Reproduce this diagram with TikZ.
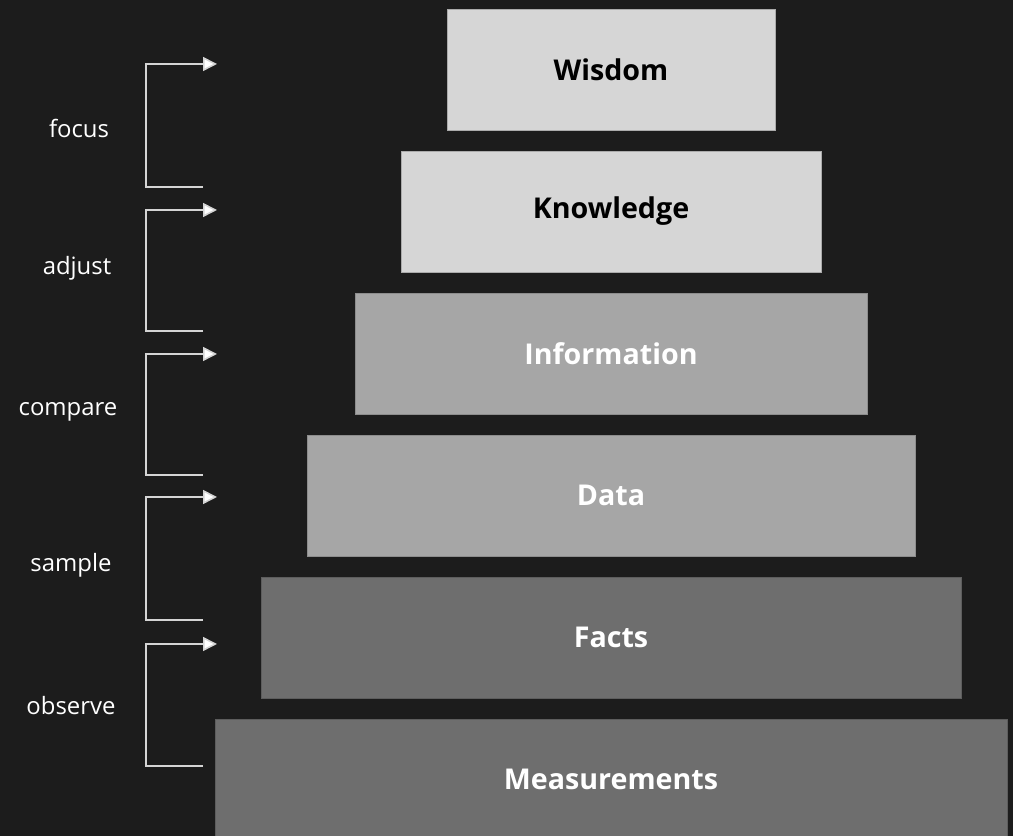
\documentclass[tikz,border=0pt]{standalone}
\usepackage{fontspec}
\setmainfont{Open Sans}
\usetikzlibrary{positioning, arrows.meta}
\definecolor{BgDark}{HTML}{1C1C1C}
\definecolor{LevelLight}{HTML}{D6D6D6}
\definecolor{LevelMid}{HTML}{A6A6A6}
\definecolor{LevelDark}{HTML}{6E6E6E}
\definecolor{LineGray}{HTML}{D4D4D4}

\begin{document}
\begin{tikzpicture}[
    level/.style={rectangle, minimum height=2.42cm, inner sep=0pt, line width=0.5pt,
                  font=\fontsize{16.3}{19}\selectfont\bfseries},
    stepname/.style={font=\fontsize{13.6}{16}\selectfont, text=white},
    bracket/.style={draw=LineGray, line width=0.9pt},
    loopend/.style={bracket, -{Triangle[length=0.28cm, width=0.28cm, fill=white]}}
  ]
  % Fondo
  \fill[BgDark] (0,0) rectangle (20.26,16.72);
  \useasboundingbox (0,0) rectangle (20.26,16.72);

  % Niveles
  \node[level, fill=LevelLight, draw=LevelLight!80!black, minimum width=6.56cm, text=black] (W) at (12.22,15.33) {Wisdom};
  \node[level, fill=LevelLight, draw=LevelLight!80!black, minimum width=8.40cm, text=black] (K) at (12.22,12.49) {Knowledge};
  \node[level, fill=LevelMid, draw=LevelMid!85!black, minimum width=10.24cm, text=white] (I) at (12.22,9.65) {Information};
  \node[level, fill=LevelMid, draw=LevelMid!85!black, minimum width=12.16cm, text=white] (D) at (12.22,6.81) {Data};
  \node[level, fill=LevelDark, draw=LevelDark!85!black, minimum width=14.00cm, text=white] (F) at (12.22,3.97) {Facts};
  \node[level, fill=LevelDark, draw=LevelDark!85!black, minimum width=15.84cm, text=white] (M) at (12.22,1.13) {Measurements};

  % Puntos de los corchetes
  \coordinate (focusTop) at (4.34,15.44);
  \coordinate (focusBot) at (4.06,12.98);
  \coordinate (adjustTop) at (4.34,12.52);
  \coordinate (adjustBot) at (4.06,10.10);
  \coordinate (compareTop) at (4.34,9.64);
  \coordinate (compareBot) at (4.06,7.22);
  \coordinate (sampleTop) at (4.34,6.78);
  \coordinate (sampleBot) at (4.06,4.32);
  \coordinate (observeTop) at (4.34,3.84);
  \coordinate (observeBot) at (4.06,1.40);

  % Corchetes
  \draw[loopend] (focusBot) -- ++(-1.14,0) |- (focusTop);
  \draw[loopend] (adjustBot) -- ++(-1.14,0) |- (adjustTop);
  \draw[loopend] (compareBot) -- ++(-1.14,0) |- (compareTop);
  \draw[loopend] (sampleBot) -- ++(-1.14,0) |- (sampleTop);
  \draw[loopend] (observeBot) -- ++(-1.14,0) |- (observeTop);

  % Etiquetas
  \node[stepname] (focus) at (1.58,14.16) {focus};
  \node[stepname] (adjust) at (1.54,11.36) {adjust};
  \node[stepname] (compare) at (1.36,8.48) {compare};
  \node[stepname] (sample) at (1.42,5.42) {sample};
  \node[stepname] (observe) at (1.42,2.60) {observe};
\end{tikzpicture}
\end{document}
